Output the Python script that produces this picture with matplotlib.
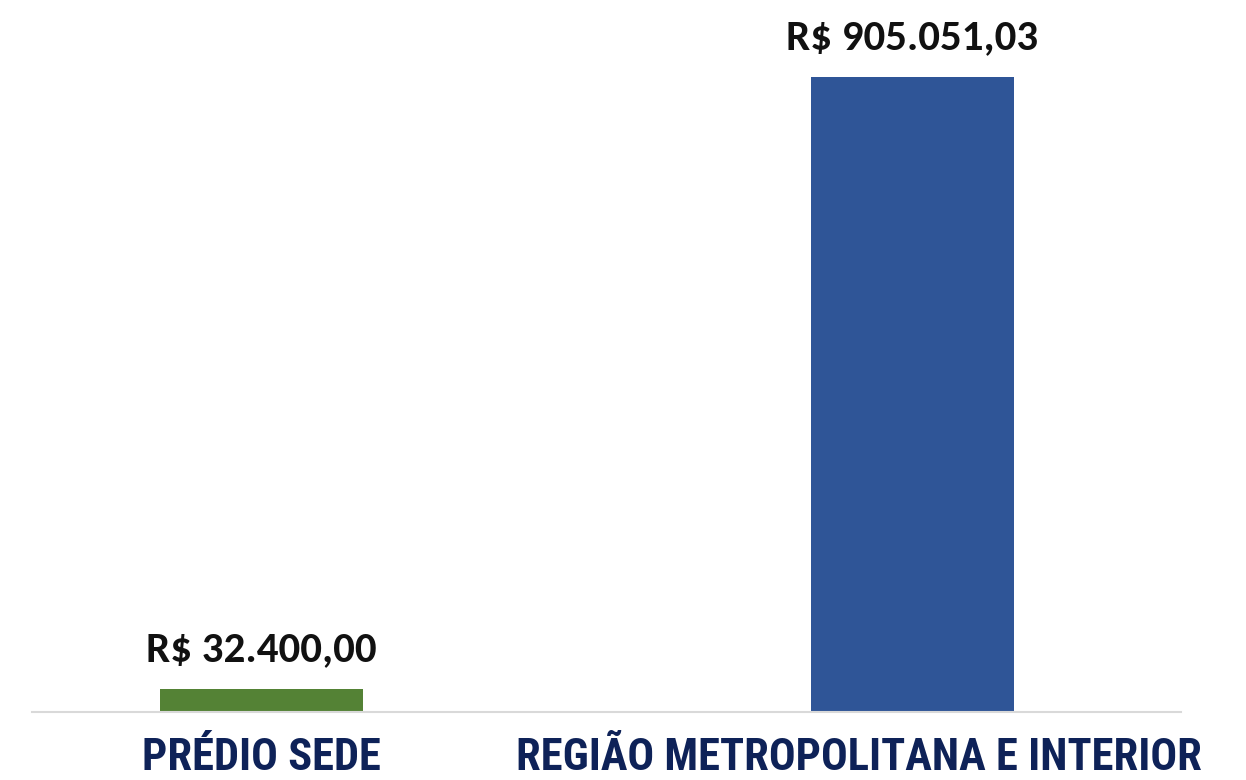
import matplotlib
matplotlib.use('Agg')
from matplotlib import pyplot as plt
from matplotlib import transforms

categories = ['PRÉDIO SEDE', 'REGIÃO METROPOLITANA E INTERIOR']
values = [32400.00, 905051.03]
bar_colors = ['#548235', '#2F5597']


def brl(value):
    # 905051.03 -> 'R$ 905.051,03'
    text = f'{value:,.2f}'.replace(',', '_').replace('.', ',').replace('_', '.')
    return f'R$ {text}'


def main():
    fig = plt.figure(figsize=(12.46, 7.80), dpi=100)
    ax = fig.add_axes([32 / 1246, 68 / 780, 1149 / 1246, 712 / 780])

    positions = range(len(values))
    bars = ax.bar(positions, values, width=0.312, color=bar_colors, zorder=2)

    ax.set_xlim(-0.3525, 1.4124)
    ax.set_ylim(0, max(values) * 712 / 635)

    for bar, value in zip(bars, values):
        ax.annotate(brl(value), (bar.get_x() + bar.get_width() / 2, bar.get_height()),
                    xytext=(0, 20), textcoords='offset points',
                    ha='center', va='baseline', fontsize=31, fontweight='bold',
                    family=['Carlito', 'DejaVu Sans'], color='#111111')

    ax.set_xticks(list(positions))
    ax.set_xticklabels(categories, fontsize=32, fontweight='bold',
                       family=['Roboto Condensed', 'DejaVu Sans'], color='#0E2258')
    ax.tick_params(axis='x', length=0, pad=18)
    ax.set_yticks([])

    # the long label sits a little left of its bar
    labels = ax.get_xticklabels()
    labels[1].set_transform(labels[1].get_transform()
                            + transforms.ScaledTranslation(-54 / 100, 0, fig.dpi_scale_trans))

    for side in ['top', 'right', 'left']:
        ax.spines[side].set_visible(False)
    ax.spines['bottom'].set_color('#D9D9D9')
    ax.spines['bottom'].set_linewidth(1.5)

    fig.savefig('out.png', dpi=100)


if __name__ == '__main__':
    main()
